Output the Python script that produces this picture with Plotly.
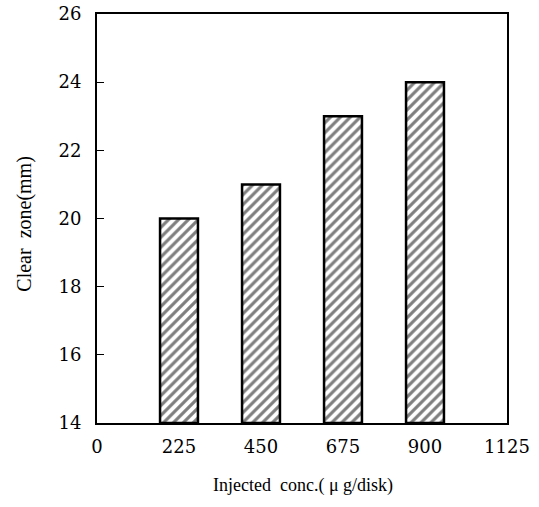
import plotly.graph_objects as go

conc = [225, 450, 675, 900]
clear_zone = [20, 21, 23, 24]
x_ticks = [0, 225, 450, 675, 900, 1125]
y_ticks = [14, 16, 18, 20, 22, 24, 26]
x_title = "Injected\u00a0\u00a0conc.(\u00a0\u03bc\u00a0g/disk)"
y_title = "Clear\u00a0\u00a0zone(mm)"

fig = go.Figure()
fig.add_trace(go.Bar(
    x=conc, y=[v - 14 for v in clear_zone], base=14, width=104,
    marker=dict(color="white", line=dict(color="black", width=2.5),
                pattern=dict(shape="/", fgcolor="black", bgcolor="white", size=7, solidity=0.45)),
))
tickfont = dict(size=18, family="DejaVu Serif", color="black")
fig.update_layout(
    width=539, height=507, plot_bgcolor="white", paper_bgcolor="white",
    margin=dict(l=97, r=32, t=14, b=84), showlegend=False,
    font=dict(family="Liberation Serif, serif", size=17, color="black"),
    xaxis=dict(range=[0, 1125], tickvals=x_ticks, ticktext=[str(t) for t in x_ticks],
               showline=True, mirror=True, linecolor="black", linewidth=2, automargin=False,
               showgrid=False, zeroline=False, ticks="", tickfont=tickfont, ticklabelstandoff=6),
    yaxis=dict(range=[14, 26], tickvals=y_ticks, ticktext=[str(t) for t in y_ticks],
               showline=True, mirror=True, linecolor="black", linewidth=2, automargin=False,
               showgrid=False, zeroline=False, ticks="inside", ticklen=7, tickcolor="black",
               tickfont=tickfont, ticklabelstandoff=10),
    annotations=[
        dict(text=x_title, xref="paper", yref="paper", x=0.502, y=-0.154,
             showarrow=False, xanchor="center", yanchor="middle",
             font=dict(size=18, family="Liberation Serif, serif", color="black")),
        dict(text=y_title, xref="paper", yref="paper", x=-0.176, y=0.487,
             showarrow=False, xanchor="center", yanchor="middle", textangle=-90,
             font=dict(size=20, family="Liberation Serif, serif", color="black")),
    ],
)
fig.write_html("out.html", config={"displayModeBar": False},
               post_script="document.body.style.margin='0';document.body.style.overflow='hidden';")
